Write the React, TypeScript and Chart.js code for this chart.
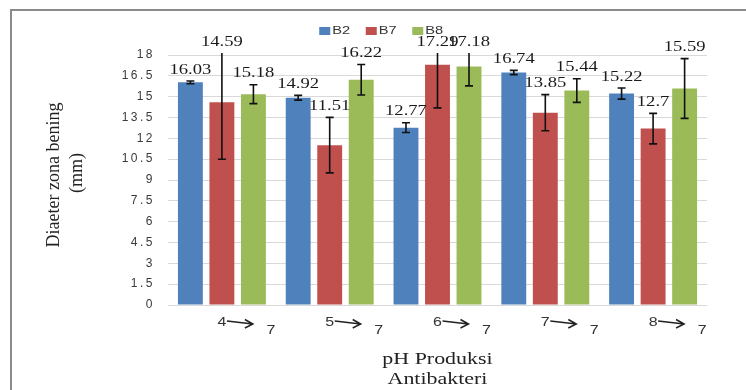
import { useEffect, useRef } from "react";
import { Chart, registerables } from "chart.js";

Chart.register(...registerables);

const categories = ["4", "5", "6", "7", "8"];
const targetPH = "7";
const seriesNames = ["B2", "B7", "B8"];
const b2Values = [16.03, 14.92, 12.77, 16.74, 15.22];
const b7Values = [14.59, 11.51, 17.29, 13.85, 12.7];
const b8Values = [15.18, 16.22, 17.18, 15.44, 15.59];
const b2Errors = [0.1, 0.17, 0.35, 0.15, 0.4];
const b7Errors = [4.1, 2.0, 3.1, 1.3, 1.1];
const b8Errors = [0.68, 1.1, 1.4, 0.85, 2.15];
const yMin = 0;
const yMax = 18;
const yStep = 1.5;
const yTitleLines = ["Diaeter zona bening", "(mm)"];
const xTitleLines = ["pH Produksi", "Antibakteri"];
const seriesColors = ["#4F81BD", "#C0504D", "#9BBB59"];

const STRETCH = 1.33;

function stretchedText(
  ctx: CanvasRenderingContext2D,
  text: string,
  x: number,
  y: number,
  align: CanvasTextAlign
) {
  ctx.save();
  ctx.translate(x, y);
  ctx.scale(STRETCH, 1);
  ctx.textAlign = align;
  ctx.fillText(text, 0, 0);
  ctx.restore();
}

const decorPlugin = {
  id: "decor",
  beforeDraw(chart: any) {
    const ctx = chart.ctx as CanvasRenderingContext2D;
    ctx.save();
    ctx.fillStyle = "#ffffff";
    ctx.fillRect(0, 0, chart.width, chart.height);
    ctx.restore();
    (ctx as any).letterSpacing = "2.5px";
  },
  afterDatasetsDraw(chart: any) {
    const ctx = chart.ctx as CanvasRenderingContext2D;
    const yScale = chart.scales.y;
    const area = chart.chartArea;
    const errs = [b2Errors, b7Errors, b8Errors];
    ctx.save();
    (ctx as any).letterSpacing = "0px";
    chart.data.datasets.forEach((ds: any, i: number) => {
      const meta = chart.getDatasetMeta(i);
      meta.data.forEach((bar: any, j: number) => {
        const v = ds.data[j] as number;
        const e = errs[i][j];
        const rawTop = yScale.getPixelForValue(v + e);
        const clipped = v + e > yMax;
        const top = clipped ? area.top - 2 : rawTop;
        const bottom = yScale.getPixelForValue(v - e);
        ctx.strokeStyle = "#111111";
        ctx.lineWidth = 1.6;
        ctx.beginPath();
        ctx.moveTo(bar.x, top);
        ctx.lineTo(bar.x, bottom);
        if (!clipped) {
          ctx.moveTo(bar.x - 4, top);
          ctx.lineTo(bar.x + 4, top);
        }
        ctx.moveTo(bar.x - 4, bottom);
        ctx.lineTo(bar.x + 4, bottom);
        ctx.stroke();

        ctx.fillStyle = "#1a1a1a";
        ctx.font = "14px 'Liberation Serif'";
        ctx.textBaseline = "middle";
        stretchedText(ctx, String(v), bar.x, top - 11, "center");
      });
    });
    ctx.restore();
  },
  afterDraw(chart: any) {
    const ctx = chart.ctx as CanvasRenderingContext2D;
    const xScale = chart.scales.x;
    const area = chart.chartArea;
    ctx.save();
    (ctx as any).letterSpacing = "0px";

    // legend
    const legendCenter = 388;
    const pitch = 46.5;
    ctx.font = "11px 'Liberation Sans'";
    ctx.textBaseline = "middle";
    seriesNames.forEach((name, i) => {
      const bx = legendCenter - pitch * 1.5 + 1 + i * pitch;
      ctx.fillStyle = seriesColors[i];
      ctx.fillRect(bx, 27, 11, 8);
      ctx.fillStyle = "#333333";
      stretchedText(ctx, name, bx + 13, 31, "left");
    });

    // x category labels with arrows
    ctx.font = "12px 'Liberation Sans'";
    categories.forEach((c, j) => {
      const cx = xScale.getPixelForValue(j);
      ctx.fillStyle = "#333333";
      ctx.textBaseline = "middle";
      stretchedText(ctx, c, cx, 323, "center");
      ctx.strokeStyle = "#222222";
      ctx.lineWidth = 1.5;
      const sx = cx + 5;
      const ex = cx + 31;
      ctx.beginPath();
      ctx.moveTo(sx, 321);
      ctx.lineTo(ex, 324);
      ctx.moveTo(ex - 8, 319.5);
      ctx.lineTo(ex, 324);
      ctx.lineTo(ex - 8, 328);
      ctx.stroke();
      stretchedText(ctx, targetPH, cx + 49, 331, "center");
    });

    // x title
    const midX = (area.left + area.right) / 2;
    ctx.fillStyle = "#222222";
    ctx.font = "16.5px 'Liberation Serif'";
    ctx.textBaseline = "middle";
    stretchedText(ctx, xTitleLines[0], midX, 360, "center");
    stretchedText(ctx, xTitleLines[1], midX, 380, "center");

    // y title
    ctx.font = "18px 'Liberation Serif'";
    ctx.textAlign = "center";
    ctx.textBaseline = "middle";
    ctx.save();
    ctx.translate(54, 175);
    ctx.rotate(-Math.PI / 2);
    ctx.fillText(yTitleLines[0], 0, 0);
    ctx.restore();
    ctx.save();
    ctx.translate(77, 173);
    ctx.rotate(-Math.PI / 2);
    ctx.fillText(yTitleLines[1], 0, 0);
    ctx.restore();

    // frame
    ctx.strokeStyle = "#8a8a8a";
    ctx.lineWidth = 2;
    ctx.strokeRect(11, 10, 800, 500);
    ctx.restore();
  },
};

export default function App() {
  const ref = useRef<HTMLCanvasElement>(null);
  useEffect(() => {
    const chart = new Chart(ref.current as HTMLCanvasElement, {
      type: "bar",
      data: {
        labels: categories,
        datasets: [b2Values, b7Values, b8Values].map((vals, i) => ({
          label: seriesNames[i],
          data: vals,
          backgroundColor: seriesColors[i],
          borderWidth: 0,
          categoryPercentage: 0.877,
          barPercentage: 0.79,
        })),
      },
      options: {
        animation: false,
        responsive: true,
        maintainAspectRatio: false,
        layout: { padding: { top: 55, right: 39, bottom: 85, left: 0 } },
        plugins: {
          legend: { display: false },
          tooltip: { enabled: false },
        },
        scales: {
          x: { display: false },
          y: {
            min: yMin,
            max: yMax,
            afterFit: (s: any) => {
              s.width = 168;
            },
            ticks: {
              stepSize: yStep,
              padding: 13,
              color: "#3a3a3a",
              font: { family: "'Liberation Sans'", size: 12 },
            },
            grid: { color: "#d9d9d9", lineWidth: 1, drawTicks: false },
            border: { display: false },
          },
        },
      },
      plugins: [decorPlugin],
    });
    return () => chart.destroy();
  }, []);
  return (
    <div
      style={{
        position: "absolute",
        left: 0,
        top: 0,
        width: 746,
        height: 390,
        background: "#fff",
      }}
    >
      <canvas ref={ref} />
    </div>
  );
}
